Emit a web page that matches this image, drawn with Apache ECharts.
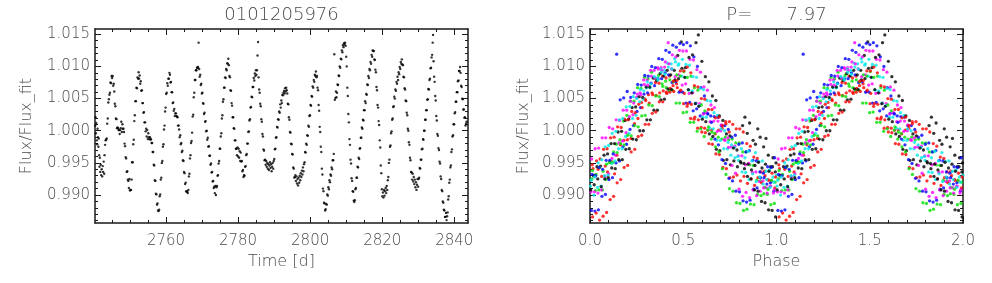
<!DOCTYPE html>
<html>
<head>
<meta charset="utf-8">
<script src="https://cdn.jsdelivr.net/npm/echarts@6/dist/echarts.min.js"></script>
<style>
html,body{margin:0;padding:0;background:#ffffff;}
#chart{width:992px;height:283px;}
</style>
</head>
<body>
<div id="chart"></div>
<script>
// ---------------- data ----------------
const starName = '0101205976';
const period = 7.97;
const epoch = 2741.8;

const time = [
2740.35,2740.45,2740.55,2740.65,2740.80,2740.90,2741.00,2741.10,
2741.25,2741.35,2741.45,2741.55,2741.65,2741.75,2741.90,2742.00,
2742.15,2742.30,2742.45,2742.55,2742.70,2742.85,2742.95,2743.10,
2743.25,2743.40,2743.55,2743.70,2743.85,2744.00,2744.15,2744.30,
2744.45,2744.60,2744.75,2744.90,2745.05,2745.20,2745.35,2745.50,
2745.65,2745.80,2745.95,2746.10,2746.25,2746.40,2746.55,2746.70,
2746.85,2747.00,2747.15,2747.30,2747.45,2747.60,2747.75,2747.90,
2748.05,2748.20,2748.35,2748.50,2748.65,2748.80,2748.95,2749.10,
2749.25,2749.40,2749.55,2749.70,2749.85,2750.00,2750.15,2750.30,
2750.45,2750.60,2750.75,2750.90,2751.05,2751.20,2751.35,2751.50,
2751.65,2751.80,2751.95,2752.10,2752.25,2752.40,2752.55,2752.70,
2752.85,2753.00,2753.15,2753.30,2753.45,2753.60,2753.75,2753.90,
2754.05,2754.20,2754.35,2754.50,2754.65,2754.80,2754.95,2755.10,
2755.25,2755.40,2755.55,2755.70,2755.85,2756.00,2756.15,2756.30,
2756.45,2756.60,2756.75,2756.90,2757.05,2757.20,2757.35,2757.50,
2757.65,2757.80,2757.95,2758.10,2758.25,2758.40,2758.55,2758.70,
2758.85,2759.00,2759.15,2759.30,2759.45,2759.60,2759.75,2759.90,
2760.05,2760.20,2760.35,2760.50,2760.65,2760.80,2760.95,2761.10,
2761.25,2761.40,2761.55,2761.70,2761.85,2762.00,2762.15,2762.30,
2762.45,2762.60,2762.75,2762.90,2763.05,2763.20,2763.35,2763.50,
2763.65,2763.80,2763.95,2764.10,2764.25,2764.40,2764.55,2764.70,
2764.85,2765.00,2765.15,2765.30,2765.45,2765.60,2765.75,2765.90,
2766.05,2766.20,2766.35,2766.50,2766.65,2766.80,2766.95,2767.10,
2767.25,2767.40,2767.55,2767.70,2767.85,2768.00,2768.15,2768.30,
2768.45,2768.60,2768.75,2768.90,2769.05,2769.20,2769.35,2769.50,
2769.65,2769.80,2769.95,2770.10,2770.25,2770.40,2770.55,2770.70,
2770.85,2771.00,2771.15,2771.30,2771.45,2771.60,2771.75,2771.90,
2772.05,2772.20,2772.35,2772.50,2772.65,2772.80,2772.95,2773.10,
2773.25,2773.40,2773.55,2773.70,2773.85,2774.00,2774.15,2774.30,
2774.45,2774.60,2774.75,2774.90,2775.05,2775.20,2775.35,2775.50,
2775.65,2775.80,2775.95,2776.10,2776.25,2776.40,2776.55,2776.70,
2776.85,2777.00,2777.15,2777.30,2777.45,2777.60,2777.75,2777.90,
2778.05,2778.20,2778.35,2778.50,2778.65,2778.80,2778.95,2779.10,
2779.25,2779.40,2779.55,2779.70,2779.85,2780.00,2780.15,2780.30,
2780.45,2780.60,2780.75,2780.90,2781.05,2781.20,2781.35,2781.50,
2781.65,2781.80,2781.95,2782.10,2782.25,2782.40,2782.55,2782.70,
2782.85,2783.00,2783.15,2783.30,2783.45,2783.60,2783.75,2783.90,
2784.05,2784.20,2784.35,2784.50,2784.65,2784.80,2784.95,2785.10,
2785.25,2785.40,2785.55,2785.70,2785.85,2786.00,2786.15,2786.30,
2786.45,2786.60,2786.75,2786.90,2787.05,2787.20,2787.35,2787.50,
2787.65,2787.80,2787.95,2788.10,2788.25,2788.40,2788.55,2788.70,
2788.85,2789.00,2789.15,2789.30,2789.45,2789.60,2789.75,2789.90,
2790.05,2790.20,2790.35,2790.50,2790.65,2790.80,2790.95,2791.10,
2791.25,2791.40,2791.55,2791.70,2791.85,2792.00,2792.15,2792.30,
2792.45,2792.60,2792.75,2792.90,2793.05,2793.20,2793.35,2793.50,
2793.65,2793.80,2793.95,2794.10,2794.25,2794.40,2794.55,2794.70,
2794.85,2795.00,2795.15,2795.30,2795.45,2795.60,2795.75,2795.90,
2796.05,2796.20,2796.35,2796.50,2796.65,2796.80,2796.95,2797.10,
2797.25,2797.40,2797.55,2797.70,2797.85,2798.00,2798.15,2798.30,
2798.45,2798.60,2798.75,2798.90,2799.05,2799.20,2799.35,2799.50,
2799.65,2799.80,2799.95,2800.10,2800.25,2800.40,2800.55,2800.70,
2800.85,2801.00,2801.15,2801.30,2801.45,2801.60,2801.75,2801.90,
2802.05,2802.20,2802.35,2802.50,2802.65,2802.80,2802.95,2803.10,
2803.25,2803.40,2803.55,2803.70,2803.85,2804.00,2804.15,2804.30,
2804.45,2804.60,2804.75,2804.90,2805.05,2805.20,2805.35,2805.50,
2805.65,2805.80,2805.95,2806.10,2806.25,2806.40,2806.55,2806.70,
2806.85,2807.00,2807.15,2807.30,2807.45,2807.60,2807.75,2807.90,
2808.05,2808.20,2808.35,2808.50,2808.65,2808.80,2808.95,2809.10,
2809.25,2809.40,2809.55,2809.70,2809.85,2810.00,2810.15,2810.30,
2810.45,2810.60,2810.75,2810.90,2811.05,2811.20,2811.35,2811.50,
2811.65,2811.80,2811.95,2812.10,2812.25,2812.40,2812.55,2812.70,
2812.85,2813.00,2813.15,2813.30,2813.45,2813.60,2813.75,2813.90,
2814.05,2814.20,2814.35,2814.50,2814.65,2814.80,2814.95,2815.10,
2815.25,2815.40,2815.55,2815.70,2815.85,2816.00,2816.15,2816.30,
2816.45,2816.60,2816.75,2816.90,2817.05,2817.20,2817.35,2817.50,
2817.65,2817.80,2817.95,2818.10,2818.25,2818.40,2818.55,2818.70,
2818.85,2819.00,2819.15,2819.30,2819.45,2819.60,2819.75,2819.90,
2820.05,2820.20,2820.35,2820.50,2820.65,2820.80,2820.95,2821.10,
2821.25,2821.40,2821.55,2821.70,2821.85,2822.00,2822.15,2822.30,
2822.45,2822.60,2822.75,2822.90,2823.05,2823.20,2823.35,2823.50,
2823.65,2823.80,2823.95,2824.10,2824.25,2824.40,2824.55,2824.70,
2824.85,2825.00,2825.15,2825.30,2825.45,2825.60,2825.75,2825.90,
2826.05,2826.20,2826.35,2826.50,2826.65,2826.80,2826.95,2827.10,
2827.25,2827.40,2827.55,2827.70,2827.85,2828.00,2828.15,2828.30,
2828.45,2828.60,2828.75,2828.90,2829.05,2829.20,2829.35,2829.50,
2829.65,2829.80,2829.95,2830.10,2830.25,2830.40,2830.55,2830.70,
2830.85,2831.00,2831.15,2831.30,2831.45,2831.60,2831.75,2831.90,
2832.05,2832.20,2832.35,2832.50,2832.65,2832.80,2832.95,2833.10,
2833.25,2833.40,2833.55,2833.70,2833.85,2834.00,2834.10,2834.25,
2834.40,2834.55,2834.70,2834.85,2835.00,2835.15,2835.30,2835.45,
2835.60,2835.75,2835.90,2836.05,2836.20,2836.35,2836.50,2836.65,
2836.80,2836.95,2837.10,2837.25,2837.40,2837.55,2837.70,2837.85,
2838.00,2838.15,2838.30,2838.45,2838.60,2838.75,2838.90,2839.05,
2839.20,2839.35,2839.50,2839.65,2839.80,2839.95,2840.10,2840.25,
2840.40,2840.55,2840.70,2840.85,2841.00,2841.15,2841.30,2841.45,
2841.60,2841.75,2841.90,2842.05,2842.20,2842.35,2842.50,2842.65,
2842.80,2842.95,2843.10,2843.25,2843.40
];

const flux = [
1.0008,1.0021,0.9996,1.0012,0.9985,0.9979,1.0003,0.9990,
0.9975,0.9988,0.9962,0.9944,0.9958,0.9936,0.9947,0.9931,
0.9940,0.9929,0.9945,0.9936,0.9952,0.9933,0.9962,0.9978,
0.9985,0.9986,0.9988,1.0011,1.0019,1.0044,1.0049,1.0056,
1.0059,1.0075,1.0074,1.0085,1.0082,1.0085,1.0070,1.0073,
1.0061,1.0042,1.0038,1.0019,1.0018,1.0004,1.0005,1.0004,
1.0001,1.0001,0.9995,1.0001,1.0004,1.0014,0.9998,1.0010,
1.0003,1.0003,0.9998,0.9980,0.9976,0.9959,0.9957,0.9936,
0.9937,0.9924,0.9922,0.9911,0.9925,0.9907,0.9908,0.9908,
0.9924,0.9951,0.9951,0.9979,0.9986,1.0015,1.0024,1.0046,
1.0046,1.0067,1.0066,1.0083,1.0081,1.0091,1.0081,1.0086,
1.0073,1.0077,1.0062,1.0063,1.0043,1.0043,1.0028,1.0029,
1.0013,1.0013,0.9999,1.0003,0.9991,1.0001,0.9987,0.9996,
0.9990,0.9987,0.9990,0.9986,0.9987,0.9981,0.9981,0.9967,
0.9967,0.9947,0.9946,0.9923,0.9922,0.9902,0.9901,0.9885,
0.9887,0.9876,0.9875,0.9877,0.9898,0.9901,0.9924,0.9927,
0.9950,0.9953,0.9975,0.9979,1.0002,1.0008,1.0030,1.0036,
1.0057,1.0059,1.0074,1.0070,1.0081,1.0081,1.0090,1.0087,
1.0075,1.0076,1.0060,1.0060,1.0043,1.0044,1.0031,1.0034,
1.0023,1.0027,1.0027,1.0023,1.0022,1.0021,1.0008,1.0008,
1.0002,0.9990,0.9993,0.9979,0.9981,0.9967,0.9969,0.9954,
0.9953,0.9936,0.9934,0.9917,0.9919,0.9906,0.9905,0.9905,
0.9903,0.9908,0.9929,0.9933,0.9957,0.9962,0.9981,0.9984,
0.9997,1.0022,1.0025,1.0052,1.0059,1.0079,1.0079,1.0094,
1.0094,1.0098,1.0098,1.0099,1.0137,1.0096,1.0084,1.0087,
1.0071,1.0073,1.0058,1.0059,1.0043,1.0042,1.0026,1.0028,
1.0014,1.0015,0.9999,1.0000,0.9986,0.9989,0.9975,0.9976,
0.9961,0.9961,0.9947,0.9949,0.9935,0.9936,0.9921,0.9922,
0.9911,0.9913,0.9903,0.9914,0.9900,0.9912,0.9914,0.9930,
0.9931,0.9949,0.9953,0.9972,0.9972,0.9991,0.9996,1.0019,
1.0024,1.0045,1.0049,1.0067,1.0067,1.0083,1.0082,1.0096,
1.0094,1.0105,1.0104,1.0112,1.0102,1.0085,1.0083,1.0063,
1.0062,1.0043,1.0039,1.0021,1.0021,1.0004,1.0003,0.9985,
0.9985,0.9972,0.9972,0.9962,0.9974,0.9960,0.9972,0.9958,
0.9968,0.9953,0.9966,0.9952,0.9953,0.9937,0.9939,0.9928,
0.9931,0.9930,0.9944,0.9945,0.9962,0.9964,0.9980,0.9980,
0.9998,0.9999,1.0016,1.0018,1.0036,1.0037,1.0053,1.0052,
1.0068,1.0068,1.0082,1.0078,1.0089,1.0085,1.0094,1.0087,
1.0094,1.0117,1.0138,1.0083,1.0064,1.0059,1.0042,1.0038,
1.0018,1.0014,0.9995,0.9991,0.9971,0.9969,0.9954,0.9955,
0.9947,0.9953,0.9944,0.9950,0.9941,0.9948,0.9939,0.9946,
0.9951,0.9942,0.9948,0.9937,0.9944,0.9950,0.9941,0.9953,
0.9956,0.9971,0.9972,0.9989,0.9990,1.0006,1.0005,1.0018,
1.0017,1.0030,1.0028,1.0041,1.0036,1.0047,1.0043,1.0056,
1.0055,1.0059,1.0062,1.0058,1.0066,1.0061,1.0067,1.0063,
1.0058,1.0042,1.0041,1.0021,1.0017,0.9998,0.9997,0.9980,
0.9979,0.9964,0.9963,0.9943,0.9941,0.9927,0.9928,0.9931,
0.9922,0.9929,0.9918,0.9925,0.9915,0.9927,0.9919,0.9930,
0.9923,0.9934,0.9928,0.9938,0.9932,0.9943,0.9937,0.9948,
0.9951,0.9967,0.9966,0.9980,0.9978,0.9993,0.9992,1.0008,
1.0006,1.0023,1.0024,1.0040,1.0039,1.0054,1.0053,1.0069,
1.0067,1.0079,1.0076,1.0087,1.0085,1.0092,1.0083,1.0085,
1.0067,1.0063,1.0040,1.0031,1.0006,0.9998,0.9975,0.9967,
0.9941,0.9932,0.9910,0.9906,0.9888,0.9887,0.9876,0.9878,
0.9886,0.9885,0.9901,0.9899,0.9912,0.9909,0.9923,0.9920,
0.9932,0.9930,0.9943,0.9940,0.9954,0.9954,0.9964,1.0119,
1.0048,1.0051,1.0061,1.0052,1.0059,1.0072,1.0071,1.0086,
1.0085,1.0100,1.0098,1.0112,1.0111,1.0125,1.0122,1.0133,
1.0130,1.0136,1.0134,1.0137,1.0132,1.0115,1.0100,1.0067,
1.0054,1.0026,1.0013,0.9987,0.9978,0.9955,0.9949,0.9926,
0.9922,0.9906,0.9905,0.9891,0.9889,0.9892,0.9909,0.9911,
0.9927,0.9927,0.9944,0.9943,0.9958,0.9956,0.9972,0.9973,
0.9989,0.9989,1.0005,1.0003,1.0017,1.0016,1.0032,1.0032,
1.0046,1.0043,1.0057,1.0056,1.0072,1.0071,1.0085,1.0082,
1.0096,1.0094,1.0107,1.0104,1.0118,1.0115,1.0125,1.0124,
1.0124,1.0111,1.0110,1.0095,1.0091,1.0068,1.0063,1.0040,
1.0036,1.0015,1.0009,0.9985,0.9974,0.9946,0.9934,0.9909,
0.9898,0.9904,0.9896,0.9908,0.9899,0.9906,0.9911,0.9903,
0.9914,0.9908,0.9923,0.9928,0.9950,0.9955,0.9975,0.9977,
0.9996,0.9999,1.0017,1.0019,1.0037,1.0038,1.0053,1.0050,
1.0064,1.0062,1.0076,1.0073,1.0084,1.0079,1.0091,1.0088,
1.0099,1.0096,1.0107,1.0104,1.0111,1.0103,1.0102,1.0084,
1.0083,1.0066,1.0064,1.0047,1.0046,1.0028,1.0024,1.0003,
1.0000,0.9982,0.9978,0.9958,0.9954,0.9936,0.9935,0.9924,
0.9933,0.9921,0.9928,0.9917,0.9924,0.9912,0.9920,0.9908,
0.9916,0.9925,0.9913,0.9925,0.9927,0.9942,0.9941,0.9955,
0.9955,0.9971,0.9972,0.9987,0.9986,1.0000,1.0000,1.0017,
1.0017,1.0032,1.0032,1.0048,1.0049,1.0065,1.0064,1.0079,
1.0081,1.0097,1.0098,1.0114,1.0118,1.0137,1.0149,1.0108,
1.0084,1.0076,1.0054,1.0047,1.0023,1.0016,0.9995,0.9992,
0.9973,0.9970,0.9952,0.9949,0.9929,0.9925,0.9908,0.9906,
0.9890,0.9888,0.9877,0.9876,0.9866,0.9866,0.9872,0.9861,
0.9867,0.9873,0.9893,0.9898,0.9919,0.9924,0.9943,0.9946,
0.9967,0.9971,0.9991,0.9993,1.0010,1.0010,1.0027,1.0029,
1.0045,1.0045,1.0060,1.0060,1.0077,1.0078,1.0093,1.0093,
1.0099,1.0090,1.0070,1.0068,1.0050,1.0049,1.0033,1.0033,
1.0020,1.0021,1.0008,1.0011,1.0014
];

// axis ranges and tick labels
const timeRange = [2740.3, 2843.8];
const phaseRange = [0, 2];
const fluxRange = [0.98565, 1.01582];
const timeTicks = [2760, 2780, 2800, 2820, 2840];
const phaseTicks = [0.0, 0.5, 1.0, 1.5, 2.0];
const fluxTicks = [0.990, 0.995, 1.000, 1.005, 1.010, 1.015];
const cycleColors = ['#ff0000', '#00e000', '#0000ff', '#ff00ff', '#00e8e8', '#000000'];

// minor tick positions
const timeMinor = [];
for (let v = 2745; v < timeRange[1]; v += 5) if (v % 20 !== 0) timeMinor.push(v);
const phaseMinor = [];
for (let i = 1; i < 20; i++) if (i % 5 !== 0) phaseMinor.push(i / 10);
const fluxMinor = [];
for (let i = 986; i <= 1015; i++) if (i % 5 !== 0) fluxMinor.push(i / 1000);

// ---------------- styling ----------------
const FONT = 'DejaVu Sans';
const TXT = '#4a4a4a';
const AX = '#1a1a1a';
const WEIGHT = 300;

function axis(gridIndex, position, range, tickVals, tickLen, showLine, labelVals, fmt, margin, extra) {
  return Object.assign({
    type: 'value', gridIndex: gridIndex, position: position,
    min: range[0], max: range[1], scale: true,
    axisLine: { show: showLine, onZero: false, lineStyle: { color: AX, width: 1.5 } },
    axisTick: { show: true, inside: true, length: tickLen, customValues: tickVals, lineStyle: { color: AX, width: 1 } },
    axisLabel: labelVals ? {
      show: true, customValues: labelVals, formatter: fmt, color: TXT,
      fontSize: 15, fontFamily: FONT, fontWeight: WEIGHT, margin: margin
    } : { show: false },
    splitLine: { show: false },
    minorTick: { show: false },
    axisPointer: { show: false }
  }, extra || {});
}
function nameStyle(size) {
  return { color: TXT, fontSize: size, fontFamily: FONT, fontWeight: WEIGHT };
}
const f0 = v => v.toFixed(0);
const f1 = v => v.toFixed(1);
const f3 = v => v.toFixed(3);

const gridBox = left => ({ left: left, top: 29, width: 373, height: 194 });

// ---------------- series ----------------
const lightCurve = time.map((t, i) => [t, flux[i]]);

const cycles = new Map();
time.forEach((t, i) => {
  const x = (t - epoch) / period;
  const c = Math.floor(x);
  const ph = x - c;
  if (!cycles.has(c)) cycles.set(c, []);
  cycles.get(c).push([ph, flux[i]], [ph + 1, flux[i]]);
});
const phaseSeries = [...cycles.keys()].sort((a, b) => a - b).map(c => ({
  type: 'scatter', xAxisIndex: 4, yAxisIndex: 4,
  data: cycles.get(c), symbol: 'circle', symbolSize: 3.3,
  itemStyle: { color: cycleColors[((c % 6) + 6) % 6] },
  silent: true, animation: false
}));

const option = {
  backgroundColor: '#ffffff',
  animation: false,
  grid: [gridBox(95), gridBox(95), gridBox(590), gridBox(590)],
  xAxis: [
    axis(0, 'bottom', timeRange, timeTicks, 6, true, timeTicks, f0, 11,
      { name: 'Time [d]', nameLocation: 'middle', nameGap: 26, nameTextStyle: nameStyle(16) }),
    axis(0, 'top', timeRange, timeTicks, 6, true, null, null, 0,
      { name: starName, nameLocation: 'middle', nameGap: 5, nameTextStyle: nameStyle(18) }),
    axis(1, 'bottom', timeRange, timeMinor, 3, false),
    axis(1, 'top', timeRange, timeMinor, 3, false),
    axis(2, 'bottom', phaseRange, phaseTicks, 6, true, phaseTicks, f1, 11,
      { name: 'Phase', nameLocation: 'middle', nameGap: 26, nameTextStyle: nameStyle(16) }),
    axis(2, 'top', phaseRange, phaseTicks, 6, true, null, null, 0,
      { name: 'P=      ' + period.toFixed(2), nameLocation: 'middle', nameGap: 5, nameTextStyle: nameStyle(18) }),
    axis(3, 'bottom', phaseRange, phaseMinor, 3, false),
    axis(3, 'top', phaseRange, phaseMinor, 3, false)
  ],
  yAxis: [
    axis(0, 'left', fluxRange, fluxTicks, 6, true, fluxTicks, f3, 5,
      { name: 'Flux/Flux_fit', nameLocation: 'middle', nameGap: 60, nameTextStyle: nameStyle(16) }),
    axis(0, 'right', fluxRange, fluxTicks, 6, true),
    axis(1, 'left', fluxRange, fluxMinor, 3, false),
    axis(1, 'right', fluxRange, fluxMinor, 3, false),
    axis(2, 'left', fluxRange, fluxTicks, 6, true, fluxTicks, f3, 5,
      { name: 'Flux/Flux_fit', nameLocation: 'middle', nameGap: 58, nameTextStyle: nameStyle(16) }),
    axis(2, 'right', fluxRange, fluxTicks, 6, true),
    axis(3, 'left', fluxRange, fluxMinor, 3, false),
    axis(3, 'right', fluxRange, fluxMinor, 3, false)
  ],
  series: [
    {
      type: 'scatter', xAxisIndex: 0, yAxisIndex: 0,
      data: lightCurve, symbol: 'circle', symbolSize: 2.4,
      itemStyle: { color: '#000000' }, silent: true, animation: false
    }
  ].concat(phaseSeries)
};

const chart = echarts.init(document.getElementById('chart'), null, { renderer: 'canvas' });
chart.setOption(option);
</script>
</body>
</html>
